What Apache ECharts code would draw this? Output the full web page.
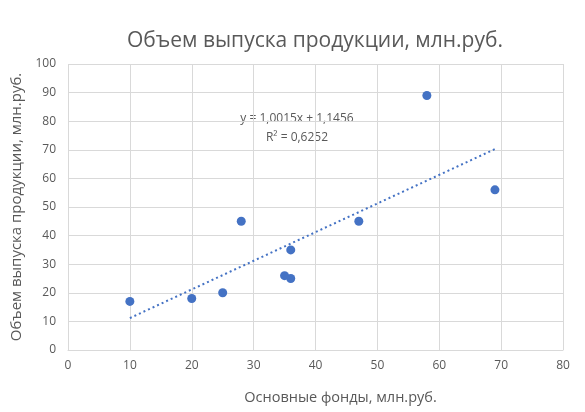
<!DOCTYPE html>
<html>
<head>
<meta charset="utf-8">
<script src="https://cdn.jsdelivr.net/npm/echarts@6/dist/echarts.min.js"></script>
<style>html,body{margin:0;padding:0;background:#fff}</style>
</head>
<body>
<div id="chart" style="width:585px;height:412px"></div>
<script>
const fundsX = [10, 20, 25, 28, 35, 36, 36, 47, 58, 69]
const outputY = [17, 18, 20, 45, 26, 25, 35, 45, 89, 56]
const slope = 1.0015
const intercept = 1.1456
const trendX = [10, 69]
const trendLabel = ['y = 1,0015x + 1,1456', 'R² = 0,6252']

const font = 'Open Sans, Liberation Sans, sans-serif'
const chart = echarts.init(document.getElementById('chart'))

chart.setOption({
  backgroundColor: '#fff',
  animation: false,
  title: {
    text: 'Объем выпуска продукции, млн.руб.',
    left: 310, top: 26, textAlign: 'center',
    textStyle: { color: '#595959', fontSize: 21, fontWeight: 'normal', fontFamily: font },
  },
  grid: { left: 68, right: 22, top: 64, bottom: 62 },
  xAxis: {
    type: 'value', min: 0, max: 80, interval: 10,
    name: 'Основные фонды, млн.руб.', nameLocation: 'middle', nameGap: 40,
    nameTextStyle: { color: '#595959', fontSize: 14.5, fontFamily: font, padding: [0, 0, 0, 50] },
    axisLine: { show: true, lineStyle: { color: '#d9d9d9' } },
    axisTick: { show: false },
    axisLabel: { color: '#595959', fontSize: 12, fontFamily: font, margin: 10 },
    splitLine: { lineStyle: { color: '#d9d9d9' } },
  },
  yAxis: {
    type: 'value', min: 0, max: 100, interval: 10,
    name: 'Объем выпуска продукции, млн.руб.', nameLocation: 'middle', nameGap: 42,
    nameTextStyle: { color: '#595959', fontSize: 15, fontFamily: font },
    axisLine: { show: false },
    axisTick: { show: false },
    axisLabel: { color: '#595959', fontSize: 12, fontFamily: font, margin: 12 },
    splitLine: { lineStyle: { color: '#d9d9d9' } },
  },
  series: [
    {
      type: 'line',
      data: trendX.map(x => [x, slope * x + intercept]),
      showSymbol: false,
      lineStyle: { color: '#4472C4', width: 2, type: [2, 3] },
      z: 1,
    },
    {
      type: 'scatter',
      data: fundsX.map((x, i) => [x, outputY[i]]),
      symbolSize: 9,
      itemStyle: { color: '#4472C4', opacity: 1 },
      z: 2,
    },
  ],
  graphic: [{
    type: 'text', x: 297, y: 109,
    style: {
      text: trendLabel.join('\n'), textAlign: 'center',
      fill: '#595959', fontSize: 12, fontFamily: font, lineHeight: 19,
    },
  }],
})
</script>
</body>
</html>
